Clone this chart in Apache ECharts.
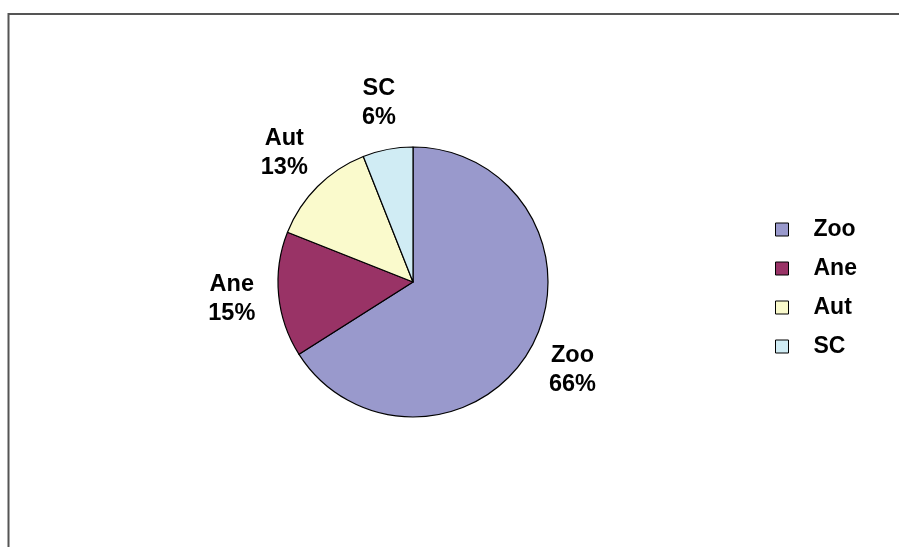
<!DOCTYPE html>
<html>
<head>
<meta charset="utf-8">
<script src="https://cdn.jsdelivr.net/npm/echarts@6/dist/echarts.min.js"></script>
<style>
  html, body { margin: 0; padding: 0; background: #fff; }
  #chart { width: 899px; height: 547px; }
</style>
</head>
<body>
<div id="chart"></div>
<script>
// Group names and their share (percent)
const categories = ['Zoo', 'Ane', 'Aut', 'SC'];
const shares = [66, 15, 13, 6];
const colors = ['#9999cc', '#993366', '#fafacc', '#d0ecf4'];

const CX = 413, CY = 282, RADIUS = 135, LABEL_R = 182;
const FONT = '"Liberation Sans", Arial, sans-serif';

// mid-angle of each slice (radians, clockwise from 12 o'clock)
const total = shares.reduce((a, b) => a + b, 0);
const midAngles = [];
let acc = 0;
shares.forEach(v => {
  midAngles.push((acc + v / 2) / total * Math.PI * 2);
  acc += v;
});

const chart = echarts.init(document.getElementById('chart'));
chart.setOption({
  animation: false,
  backgroundColor: '#ffffff',
  graphic: [{
    type: 'rect',
    shape: { x: 8.5, y: 14, width: 1000, height: 1000 },
    style: { fill: 'none', stroke: '#555', lineWidth: 2 },
    silent: true
  }],
  legend: {
    orient: 'vertical',
    left: 775,
    top: 218,
    padding: 0,
    icon: 'rect',
    itemWidth: 13,
    itemHeight: 13,
    itemGap: 16,
    itemStyle: { borderColor: '#000', borderWidth: 1 },
    textStyle: {
      fontFamily: FONT, fontWeight: 'bold', fontSize: 23, color: '#000',
      lineHeight: 22, padding: [0, 0, 0, 20]
    },
    data: categories
  },
  series: [{
    type: 'pie',
    center: [CX, CY],
    radius: RADIUS,
    startAngle: 90,
    clockwise: true,
    silent: true,
    itemStyle: { borderColor: '#000', borderWidth: 1.2 },
    label: {
      show: true,
      position: 'outside',
      formatter: p => p.name + '\n' + p.value + '%',
      fontFamily: FONT, fontWeight: 'bold', fontSize: 23.5, color: '#000',
      lineHeight: 29, align: 'center'
    },
    labelLine: { show: false },
    labelLayout: p => {
      const a = midAngles[p.dataIndex];
      return {
        x: CX + Math.sin(a) * LABEL_R,
        y: CY - Math.cos(a) * LABEL_R,
        align: 'center',
        verticalAlign: 'middle'
      };
    },
    data: categories.map((c, i) => ({
      name: c, value: shares[i], itemStyle: { color: colors[i] }
    }))
  }]
});
</script>
</body>
</html>
